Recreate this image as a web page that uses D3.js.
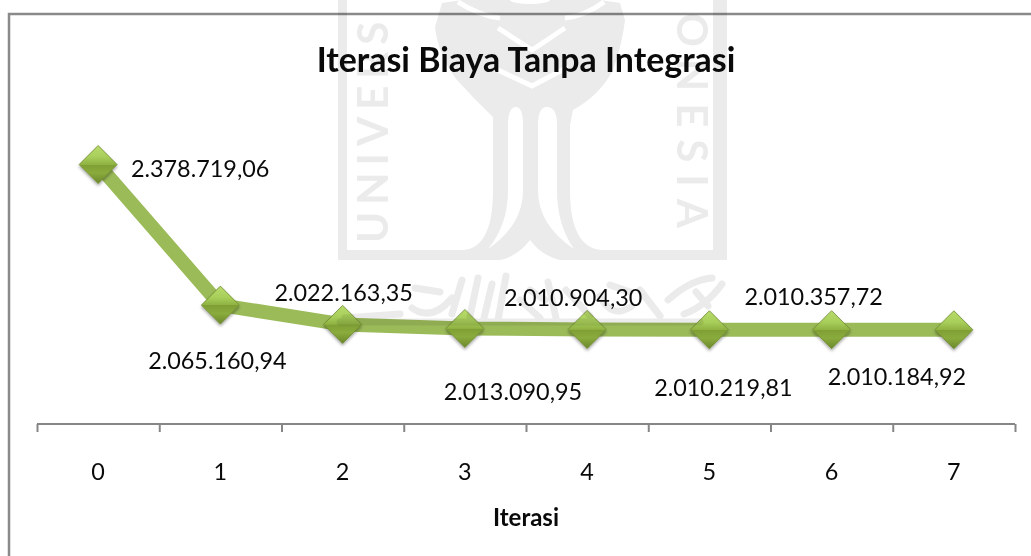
<!DOCTYPE html>
<html>
<head>
<meta charset="utf-8">
<script src="https://cdn.jsdelivr.net/npm/d3@7"></script>
<style>
  html, body { margin: 0; padding: 0; background: #fff; }
  svg { display: block; }
  text { font-family: Lato, "Open Sans", sans-serif; fill: #0a0a0a; }
</style>
</head>
<body>
<div class="chart"></div>
<script>
const iterations = [0, 1, 2, 3, 4, 5, 6, 7];
const biaya = [2378719.06, 2065160.94, 2022163.35, 2013090.95, 2010904.30, 2010219.81, 2010357.72, 2010184.92];
const yDomain = [1800000, 2400000];

// labels were dragged by hand in the original, so each has its own offset
const labelDx = [102, -3, 1, 48, -14, 14, -18, -57];
const labelDy = [3, 55, -32, 63, -32, 57, -34, 46];

const outerWidth = 1031;
const outerHeight = 556;
const plot = {left: 37, right: 1015, top: 155, bottom: 424};

const svg = d3.select(".chart").append("svg")
  .attr("width", outerWidth)
  .attr("height", outerHeight);

const defs = svg.append("defs");

const grad = defs.append("linearGradient")
  .attr("id", "facet")
  .attr("x1", 0).attr("y1", 0).attr("x2", 0).attr("y2", 1);
[[0, "#b9dc6c"], [0.3, "#a8ce5a"], [0.5, "#8fb242"], [0.51, "#7f9f35"], [0.72, "#8aab3c"], [1, "#6b882c"]]
  .forEach(s => grad.append("stop").attr("offset", s[0]).attr("stop-color", s[1]));

const shadow = defs.append("filter").attr("id", "shadow")
  .attr("x", "-30%").attr("y", "-30%").attr("width", "160%").attr("height", "170%");
shadow.append("feDropShadow")
  .attr("dx", 0).attr("dy", 2).attr("stdDeviation", 1.5)
  .attr("flood-color", "#000").attr("flood-opacity", 0.35);

// chart frame, runs off the right and bottom of the picture
svg.append("path")
  .attr("d", "M9,556V14H1031")
  .attr("fill", "none")
  .attr("stroke", "#8a8a8a")
  .attr("stroke-width", 2.5);

const xScale = d3.scaleBand()
  .domain(iterations)
  .range([plot.left, plot.right]);

const xEdges = d3.scaleLinear()
  .domain([0, iterations.length])
  .range([plot.left, plot.right]);

const yScale = d3.scaleLinear()
  .domain(yDomain)
  .range([plot.bottom, plot.top]);

const cx = i => xScale(iterations[i]) + xScale.bandwidth() / 2;

// ticks sit between the categories
const tickAxis = svg.append("g")
  .attr("transform", `translate(0, ${plot.bottom})`)
  .call(d3.axisBottom(xEdges).tickValues(d3.range(iterations.length + 1)).tickSize(8).tickSizeOuter(0).tickFormat(""));
tickAxis.selectAll("path, line").attr("stroke", "#868686").attr("stroke-width", 2);
tickAxis.select("path").attr("d", `M${plot.left},0H${plot.right}`);

const labelAxis = svg.append("g")
  .attr("transform", `translate(0, ${plot.bottom})`)
  .call(d3.axisBottom(xScale).tickSize(0).tickPadding(39));
labelAxis.select("path").remove();
labelAxis.selectAll("text")
  .attr("font-family", null)
  .style("font-size", "23.4px");

const line = d3.line()
  .x((d, i) => cx(i))
  .y(d => yScale(d));

svg.append("path")
  .datum(biaya)
  .attr("d", line)
  .attr("fill", "none")
  .attr("stroke", "#9bbb59")
  .attr("stroke-width", 14)
  .attr("stroke-linejoin", "round");

const diamond = r => {
  const p = d3.path();
  p.moveTo(0, -r); p.lineTo(r, 0); p.lineTo(0, r); p.lineTo(-r, 0); p.closePath();
  return p.toString();
};

const markers = svg.selectAll(".marker")
  .data(biaya)
  .enter()
  .append("g")
  .attr("class", "marker")
  .attr("transform", (d, i) => `translate(${cx(i)}, ${yScale(d)})`);

markers.append("path")
  .attr("d", diamond(19))
  .attr("fill", "url(#facet)")
  .attr("stroke", "#6f8a30")
  .attr("stroke-width", 0.8)
  .attr("filter", "url(#shadow)");

const fmt = d3.formatLocale({decimal: ",", thousands: ".", grouping: [3], currency: ["", ""]}).format(",.2f");

svg.selectAll(".value")
  .data(biaya)
  .enter()
  .append("text")
  .attr("class", "value")
  .attr("x", (d, i) => cx(i) + labelDx[i])
  .attr("y", (d, i) => yScale(d) + labelDy[i])
  .attr("text-anchor", "middle")
  .attr("dominant-baseline", "central")
  .style("font-size", "23.4px")
  .text(d => fmt(d));

svg.append("text")
  .attr("x", 526).attr("y", 59)
  .attr("text-anchor", "middle")
  .attr("dominant-baseline", "central")
  .style("font-size", "33.9px")
  .style("font-weight", 700)
  .text("Iterasi Biaya Tanpa Integrasi");

svg.append("text")
  .attr("x", 526).attr("y", 516)
  .attr("text-anchor", "middle")
  .attr("dominant-baseline", "central")
  .style("font-size", "24px")
  .style("font-weight", 700)
  .text("Iterasi");

// watermark stamped over the scanned page
const wm = svg.append("g").style("mix-blend-mode", "multiply").style("pointer-events", "none");
const gray = "#ebebeb";

wm.append("path")
  .attr("fill", gray)
  .attr("d", "M338,0V260H500Q518,256 530,240Q542,256 560,260H727V0H713V250H602Q570,248 570,190V125L573,110Q600,95 613,70Q622,45 625,20L620,3L600,0H462L442,3L435,27Q438,55 457,80Q475,100 493,117V190Q493,248 463,250H347V0Z");

wm.append("path")
  .attr("fill", "#fff")
  .attr("d", "M508,125Q508,107 516,107Q523,107 523,125V190Q523,225 488,249Q508,225 508,190ZM557,125Q557,107 547,107Q538,107 538,125V190Q538,225 574,249Q557,225 557,190Z");

wm.append("path")
  .attr("fill", "none")
  .attr("stroke", "#fff")
  .attr("stroke-width", 5)
  .attr("d", "M498,28L532,50L565,28M498,70L532,86L568,67M458,2Q480,16 500,18M604,2Q585,16 565,18");

wm.append("ellipse").attr("cx", 530).attr("cy", 0).attr("rx", 20).attr("ry", 4).attr("fill", "#fff");

wm.append("text")
  .attr("transform", "translate(388, 243) rotate(-90)")
  .style("font-size", "42px")
  .style("font-weight", 700)
  .style("letter-spacing", "7px")
  .style("fill", gray)
  .text("UNIVERS");

wm.append("text")
  .attr("transform", "translate(677, 240) rotate(90)")
  .attr("text-anchor", "end")
  .style("font-size", "42px")
  .style("font-weight", 700)
  .style("letter-spacing", "12px")
  .style("fill", gray)
  .text("ONESIA");

// arabic calligraphy under the logo, only a rough impression of it
wm.append("path")
  .attr("fill", "none")
  .attr("stroke", gray)
  .attr("stroke-width", 7)
  .attr("stroke-linecap", "round")
  .attr("d", "M345,318L400,314M412,308Q432,322 452,298M462,280L452,314M478,278L470,316M492,284L484,318M506,276L498,320M520,300L540,318M548,282L556,318M566,290L590,316M600,296Q612,320 632,306M640,290L660,316M668,300Q690,280 712,278M684,314Q706,306 722,284M696,292L708,306M415,288L440,292M530,290L545,300M610,285L630,292M340,322L700,322");

</script>
</body>
</html>
